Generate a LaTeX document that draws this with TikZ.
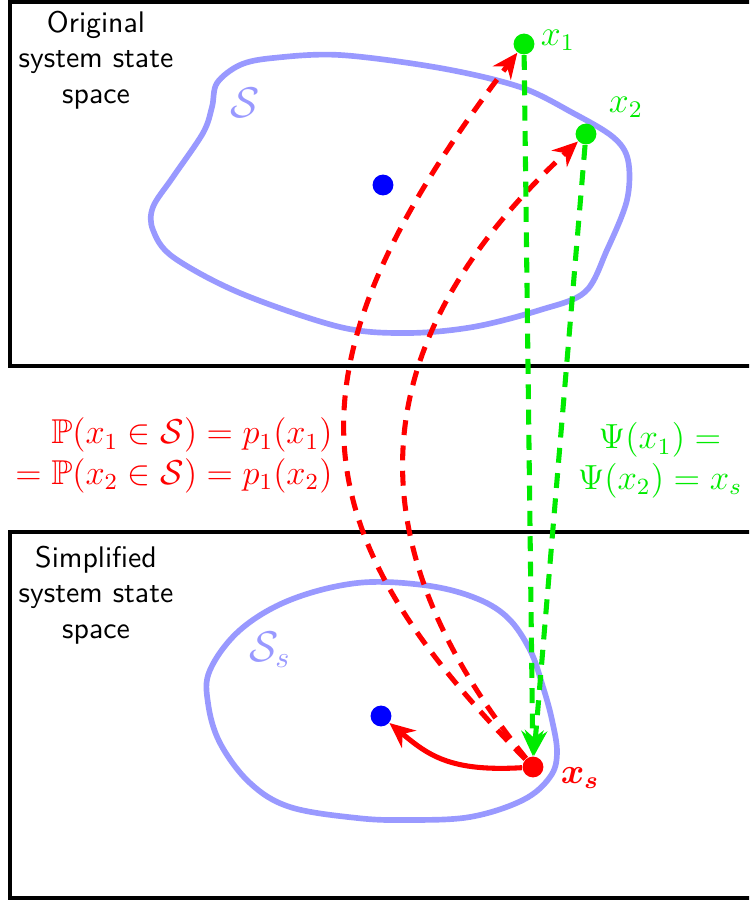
\documentclass[tikz,border=0pt]{standalone}
\usepackage{amsmath,amssymb,bm}
\usetikzlibrary{arrows.meta}
\definecolor{setblue}{RGB}{153,153,255}
\definecolor{ptgreen}{RGB}{0,235,0}
\begin{document}
\begin{tikzpicture}[x=0.0118cm, y=-0.0118cm,
  dot/.style={circle, fill, inner sep=0pt, minimum size=7pt},
  frame/.style={line width=1.4pt},
  region/.style={setblue, line width=1.9pt},
  mapdash/.style={line width=1.7pt, dash pattern=on 5pt off 3.5pt, -{Stealth[length=8.5pt,width=7.5pt]}},
  lbl/.style={font=\large}]
  \useasboundingbox (0,0) rectangle (749,904);
  \clip (0,0) rectangle (749,904);
  \draw[frame] (10,2) rectangle (780,366);
  \draw[frame] (10,532) rectangle (780,898);
  \node[align=center, font=\sffamily] (orig) at (96,60) {Original\\system state\\space};
  \node[align=center, font=\sffamily] (simp) at (96,595) {Simplified\\system state\\space};
  \draw[region] plot[smooth cycle, tension=0.55] coordinates {(340,55) (440,68) (520,87) (573,113) (613,137) (628,160) (627,200) (607,250) (585,292) (540,310) (473,327) (407,333) (340,327) (240,293) (173,257) (153,230) (153,207) (173,177) (203,133) (212,107) (217,83) (240,65) (273,58)};
  \draw[region] plot[smooth cycle, tension=0.6] coordinates {(357,583) (423,585) (473,597) (507,617) (530,650) (543,687) (552,720) (557,753) (550,777) (523,800) (470,817) (407,820) (357,818) (290,807) (250,783) (220,743) (208,703) (210,670) (240,630) (290,600)};
  \node[setblue, font=\Large] (S) at (245,103) {$\mathcal{S}$};
  \node[setblue, font=\Large] (Ss) at (270,650) {$\mathcal{S}_s$};
  \node[dot, blue] (c) at (383,185) {};
  \node[dot, ptgreen] (x1) at (524,44) {};
  \node[dot, ptgreen] (x2) at (586,134) {};
  \node[dot, blue] (cs) at (381,716) {};
  \node[dot, red] (xs) at (533,767) {};
  \node[ptgreen, lbl] (lx1) at (558,40) {$x_1$};
  \node[ptgreen, lbl] (lx2) at (626,107) {$x_2$};
  \node[red, lbl] (lxs) at (580,778) {$\bm{x_s}$};
  \node[red, lbl, anchor=east, inner sep=0pt] (prob) at (333,456)
    {\scalebox{0.965}{\begin{tabular}{@{}r@{}}$\mathbb{P}(x_1\in\mathcal{S})=p_1(x_1)$\\$=\mathbb{P}(x_2\in\mathcal{S})=p_1(x_2)$\end{tabular}}};
  \node[ptgreen, lbl, anchor=center, inner sep=0pt] (psi) at (660,461)
    {\scalebox{0.975}{\begin{tabular}{@{}c@{}}$\Psi(x_1)=$\\$\Psi(x_2)=x_s$\end{tabular}}};
  \draw[mapdash, red] (xs) .. controls (300,530) and (273,373) .. (x1);
  \draw[mapdash, red] (xs) .. controls (359,551) and (351,352) .. (x2);
  \draw[mapdash, ptgreen] (x1) -- (xs);
  \draw[mapdash, ptgreen] (x2) -- (xs);
  \draw[red, line width=1.7pt, -{Stealth[length=8.5pt,width=7.5pt]}] (xs) .. controls (450,772) and (428,755) .. (cs);
\end{tikzpicture}
\end{document}
